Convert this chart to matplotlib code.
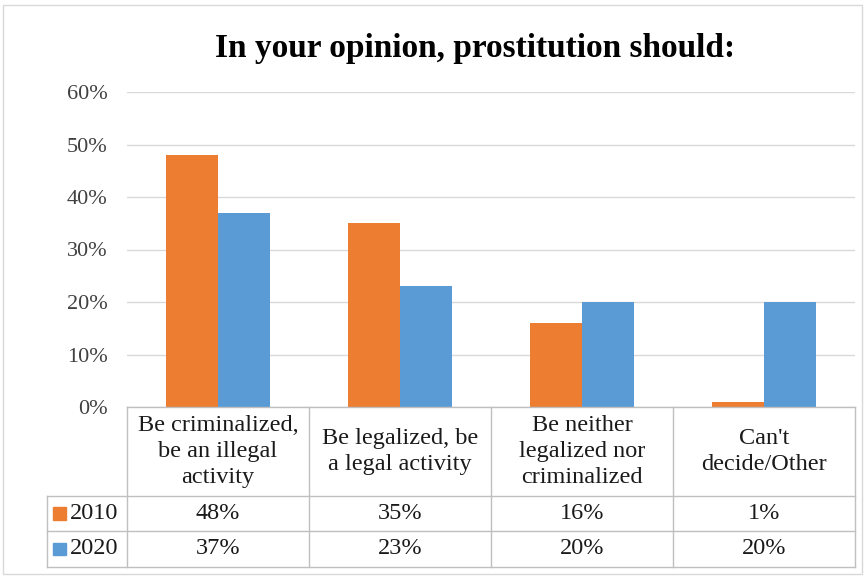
import matplotlib.pyplot as plt
import matplotlib.transforms as mtransforms
from matplotlib.patches import Rectangle
import numpy as np

categories = ["Be criminalized,\nbe an illegal\nactivity",
              "Be legalized, be\na legal activity",
              "Be neither\nlegalized nor\ncriminalized",
              "Can't\ndecide/Other"]
years = ["2010", "2020"]
values_2010 = [48, 35, 16, 1]
values_2020 = [37, 23, 20, 20]
yticks = [0, 10, 20, 30, 40, 50, 60]

orange = "#ED7D31"
blue = "#5B9BD5"
border = "#BFBFBF"

plt.rcParams['font.family'] = ['Liberation Serif', 'DejaVu Serif']

fig = plt.figure(figsize=(8.65, 5.76), dpi=100)
ax = fig.add_axes([127 / 865, 1 - 407 / 576, 728 / 865, 315 / 576])

x = np.arange(len(categories))
w = 0.285
ax.bar(x - w / 2, values_2010, w, color=orange, zorder=2)
ax.bar(x + w / 2, values_2020, w, color=blue, zorder=2)

ax.set_xlim(-0.5, len(categories) - 0.5)
ax.set_ylim(0, 60)
ax.set_yticks(yticks)
ax.set_yticklabels(["{}%".format(t) for t in yticks], fontsize=16, color="#404040")
ax.set_xticks([])
ax.tick_params(axis='y', length=0, pad=14)
ax.grid(axis='y', color="#D9D9D9", linewidth=1, zorder=0)
for s in ax.spines.values():
    s.set_visible(False)

fig.text(475 / 865, 1 - 49 / 576, "In your opinion, prostitution should:",
         fontsize=24, fontweight='bold', ha='center', va='center')

# data table below the plot
tr = mtransforms.blended_transform_factory(ax.transData, fig.transFigure)
def fy(py):
    return 1 - py / 576

y_top, y_r1, y_r2, y_bot = fy(407), fy(496), fy(531), fy(567)
x_left = -0.5
x_right = len(categories) - 0.5
x_legend = -0.94

line_kw = dict(color=border, linewidth=1, transform=tr, clip_on=False)
ax.plot([x_left, x_right], [y_top, y_top], **line_kw)
for yy in (y_r1, y_r2, y_bot):
    ax.plot([x_legend, x_right], [yy, yy], **line_kw)
for i in range(len(categories) + 1):
    ax.plot([i - 0.5, i - 0.5], [y_top, y_bot], **line_kw)
ax.plot([x_legend, x_legend], [y_r1, y_bot], **line_kw)

for i, c in enumerate(categories):
    ax.text(i, (y_top + y_r1) / 2, c, transform=tr, ha='center', va='center',
            fontsize=17.5, linespacing=1.3, color="#1A1A1A")

rows = [(years[0], values_2010, orange, (y_r1 + y_r2) / 2),
        (years[1], values_2020, blue, (y_r2 + y_bot) / 2)]
for label, vals, col, yc in rows:
    for i, v in enumerate(vals):
        ax.text(i, yc, "{}%".format(v), transform=tr, ha='center', va='center',
                fontsize=17.5, color="#1A1A1A")
    ax.text(-0.815, yc, label, transform=tr, ha='left', va='center',
            fontsize=17.5, color="#1A1A1A")
    ax.add_patch(Rectangle((-0.905, yc - 0.0105), 0.068, 0.021, transform=tr,
                           color=col, clip_on=False))

fig.add_artist(Rectangle((0.004, 0.004), 0.992, 0.988, transform=fig.transFigure,
                         fill=False, edgecolor="#D9D9D9", linewidth=1))

fig.savefig("out.png", dpi=100)
